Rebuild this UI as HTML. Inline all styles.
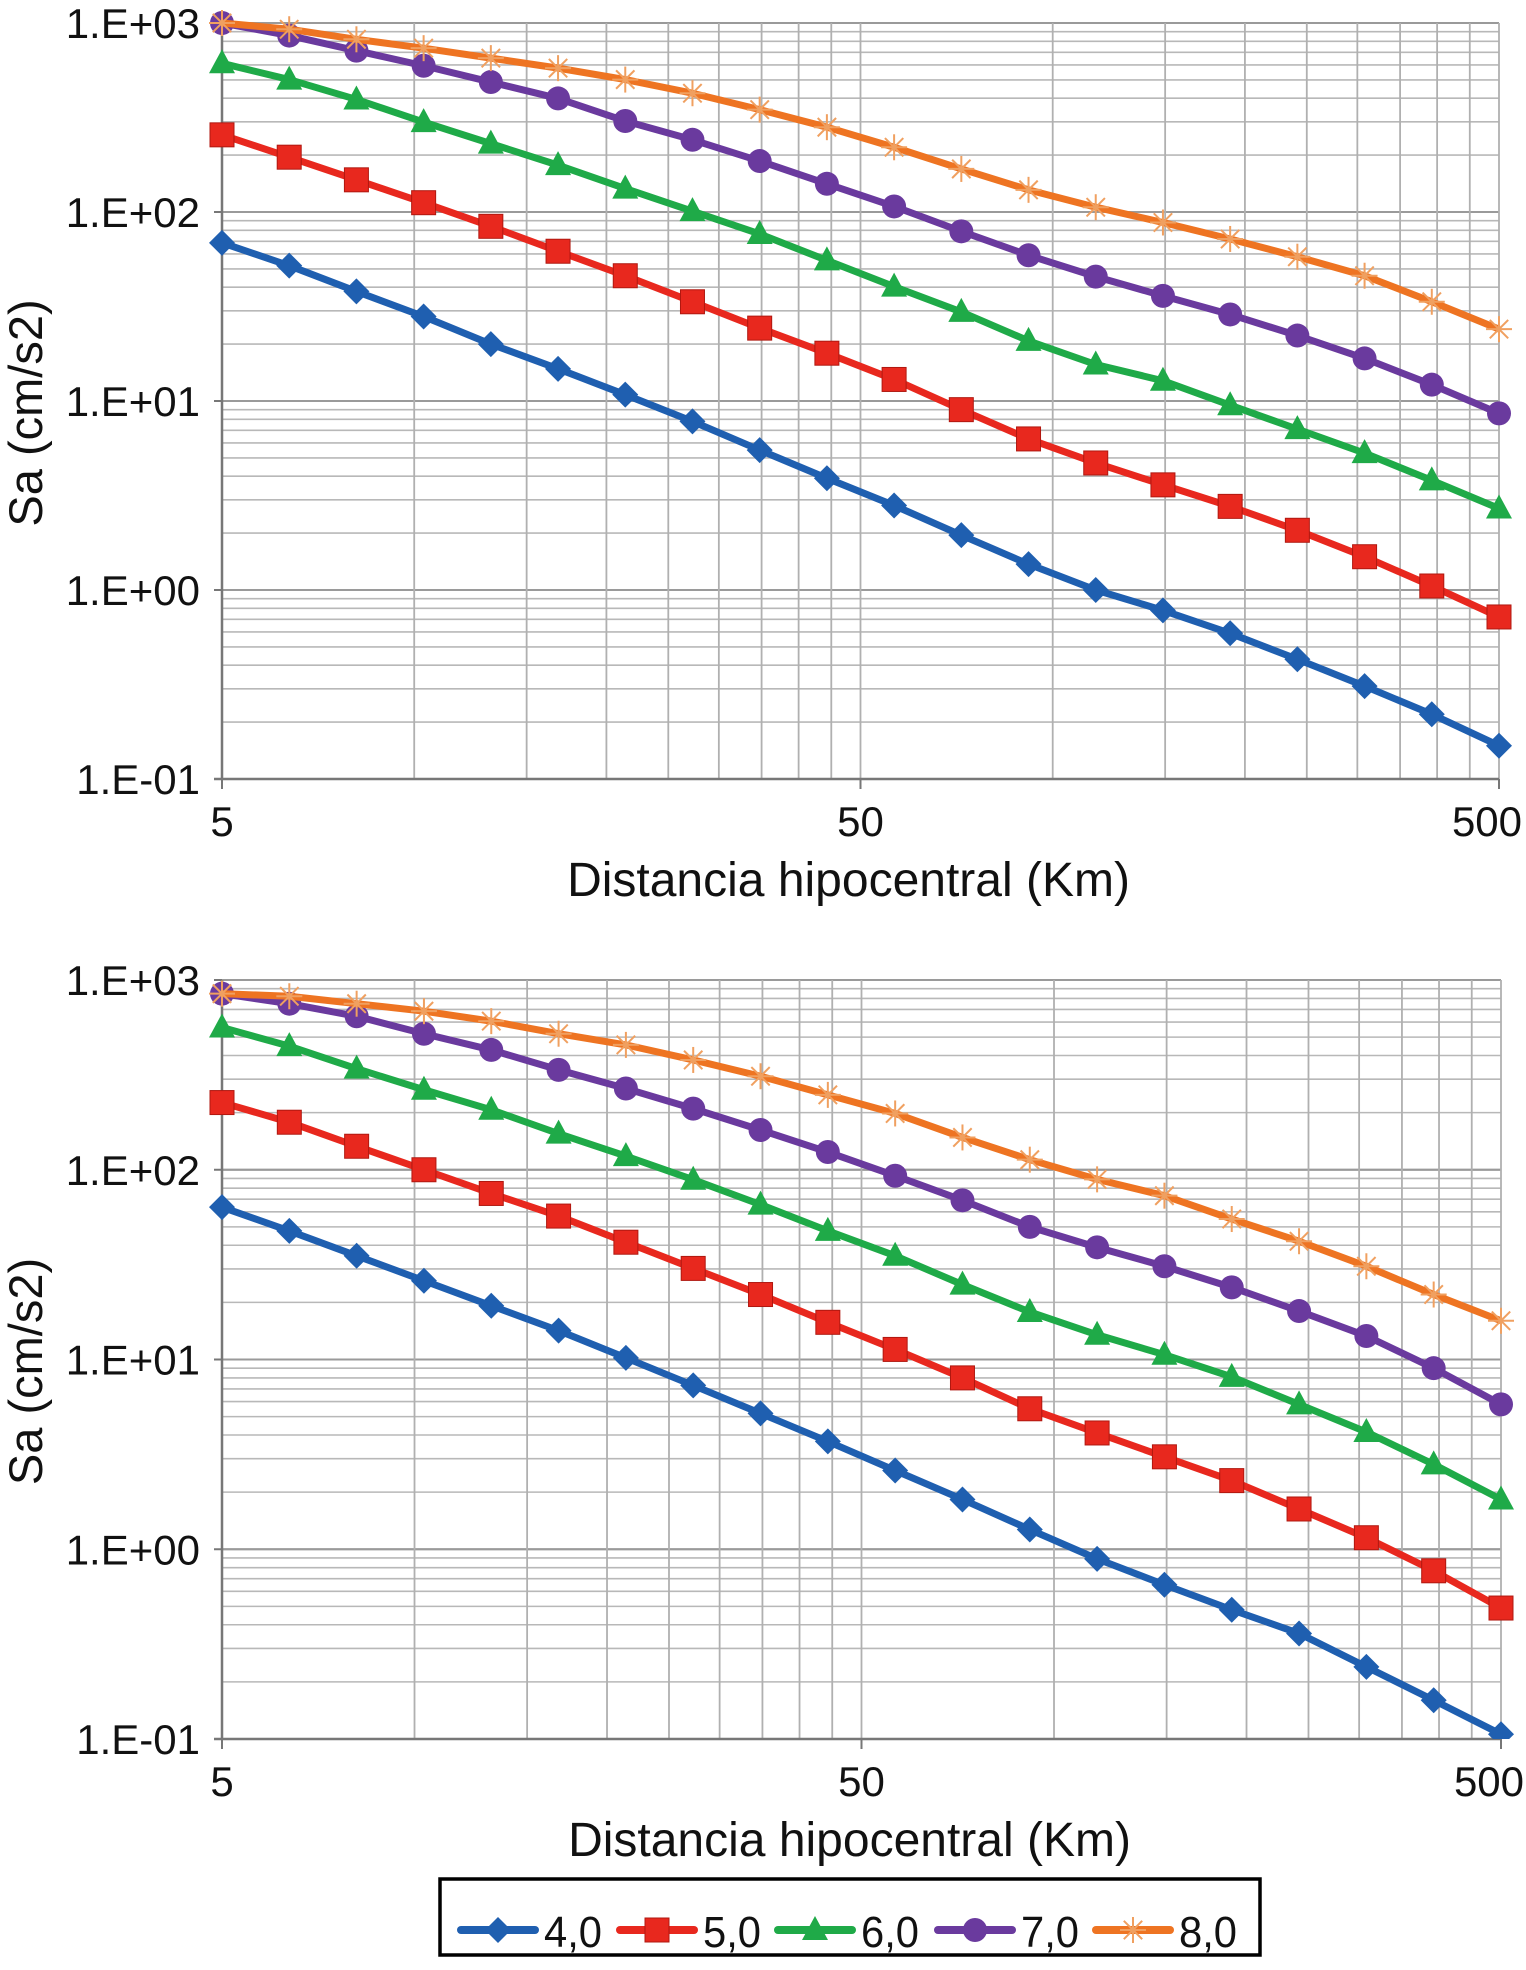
<!DOCTYPE html>
<html><head><meta charset="utf-8"><style>
html,body{margin:0;padding:0;background:#fff;}
svg{display:block;font-family:"Liberation Sans",Arial,sans-serif;}
</style></head><body>
<svg id="chart" width="1526" height="1970" viewBox="0 0 1526 1970">
<g id="p1"></g>
<g id="p2"></g>
<g id="legend">
<rect x="440" y="1879" width="820" height="76" fill="#fff" stroke="#000" stroke-width="3.5"/>
</g>
</svg>
<script>
const seriesNames = ["4,0","5,0","6,0","7,0","8,0"];
const xTickLabels = ["5","50","500"];
const yTickLabels = ["1.E+03","1.E+02","1.E+01","1.E+00","1.E-01"];
const nPoints = 20;
const topSeries40 = [68.7,52,38,28,20,14.8,10.8,7.8,5.5,3.9,2.8,1.95,1.37,1.0,0.78,0.59,0.43,0.31,0.22,0.15];
const topSeries50 = [256,195,148,112,84,62,46,33.5,24.3,17.9,13,9.0,6.3,4.7,3.6,2.77,2.07,1.5,1.05,0.72];
const topSeries60 = [612,502,394,299,230,177,133,101,76.5,55.5,40.3,29.6,20.8,15.6,12.8,9.5,7.1,5.3,3.8,2.7];
const topSeries70 = [1000,858,714,594,487,399,303,241,186,141,107,79,59,45.5,36,28.7,22.2,16.8,12.2,8.6];
const topSeries80 = [1000,927,820,736,652,577,502,425,348,281,220,169,131,106,88,72,58,46,33.5,24];
const botSeries40 = [63.5,47.6,35.2,26,19.2,14.2,10.2,7.3,5.2,3.7,2.6,1.83,1.27,0.89,0.65,0.48,0.36,0.24,0.16,0.106];
const botSeries50 = [226,178,133,100,75,57,41.5,30.2,22,15.7,11.3,8.0,5.5,4.1,3.07,2.3,1.63,1.15,0.77,0.49];
const botSeries60 = [562,448,341,264,207,155,118,88.6,65.5,47.6,35.2,24.8,17.8,13.5,10.6,8.1,5.8,4.15,2.8,1.83];
const botSeries70 = [847,750,644,521,428,336,268,210,162,124,93,69,50,39,31,24,18,13.3,9.0,5.8];
const botSeries80 = [847,821,750,685,607,521,455,379,311,248,198,148,113,89,73,55,42,31,22,16];

const NS="http://www.w3.org/2000/svg";
const colors=["#1f5fb0","#e8281e","#1faa48","#6a3a9e","#ee7422"];
const markers=["diamond","square","triangle","circle","star"];
function mk(tag,attrs,parent){const e=document.createElementNS(NS,tag);for(const k in attrs)e.setAttribute(k,attrs[k]);parent.appendChild(e);return e;}
function xVal(i){return 5*Math.pow(100,i/(nPoints-1));}

function marker(g,type,cx,cy,color){
  let e;
  if(type==="diamond"){e=mk("polygon",{points:`${cx},${cy-13} ${cx+13},${cy} ${cx},${cy+13} ${cx-13},${cy}`,fill:color},g);}
  else if(type==="square"){e=mk("rect",{x:cx-12,y:cy-12,width:24,height:24,fill:color,stroke:"#b01810","stroke-width":1},g);}
  else if(type==="triangle"){e=mk("polygon",{points:`${cx},${cy-14} ${cx+13},${cy+10} ${cx-13},${cy+10}`,fill:color},g);}
  else if(type==="circle"){e=mk("circle",{cx:cx,cy:cy,r:12,fill:color},g);}
  else {e=mk("g",{},g);
    for(let a=0;a<4;a++){const t=a*Math.PI/4;const l=mk("line",{x1:cx-13*Math.cos(t),y1:cy-13*Math.sin(t),x2:cx+13*Math.cos(t),y2:cy+13*Math.sin(t),stroke:"#f0a060","stroke-width":2},e);
      
      }
  }
  
  
}

function drawPanel(g,top,bottom,left,right,data,id){
  const xs=v=>left+(Math.log10(v)-Math.log10(5))/2*(right-left);
  const ys=v=>top+(3-Math.log10(v))/4*(bottom-top);
  for(let d=-1;d<3;d++){for(let m=1;m<=10;m++){const v=m*Math.pow(10,d);
    const l=mk("line",{x1:left,x2:right,y1:ys(v),y2:ys(v),stroke:(m===1||m===10)?"#9a9a9a":"#b8b8b8","stroke-width":m===1||m===10?2:1.6},g);
    
    }}
  const vx=[];for(let v=10;v<=50;v+=5)vx.push(v);for(let v=100;v<=500;v+=50)vx.push(v);
  vx.forEach(v=>{const l=mk("line",{x1:xs(v),x2:xs(v),y1:top,y2:bottom,stroke:"#b0b0b0","stroke-width":1.8},g);
    
    });
  const ax=mk("line",{x1:left,x2:left,y1:top,y2:bottom,stroke:"#777","stroke-width":2.5},g);
  
  
  const bx=mk("line",{x1:left-8,x2:right,y1:bottom,y2:bottom,stroke:"#777","stroke-width":2.5},g);
  
  
  yTickLabels.forEach((t,i)=>{const y=top+i*(bottom-top)/4;
    const tk=mk("line",{x1:left-8,x2:left,y1:y,y2:y,stroke:"#777","stroke-width":2},g);
    
    
    const tx=mk("text",{x:200,y:y+15,"font-size":42,"text-anchor":"end",fill:"#111"},g);tx.textContent=t;
    
    });
  [5,50,500].forEach((v,i)=>{const tk=mk("line",{x1:xs(v),x2:xs(v),y1:bottom,y2:bottom+10,stroke:"#777","stroke-width":2},g);
    
    
    const anchorX=i===2?xs(v)-12:xs(v);
    const tx=mk("text",{x:anchorX,y:bottom+57,"font-size":42,"text-anchor":"middle",fill:"#111"},g);tx.textContent=xTickLabels[i];
    
    });
  const xt=mk("text",{x:(left+right)/2-12,y:bottom+117,"font-size":48,"text-anchor":"middle",fill:"#111"},g);xt.textContent="Distancia hipocentral (Km)";
  
  
  const cy=(top+bottom)/2+12;
  const yt=mk("text",{x:0,y:0,"font-size":47,"text-anchor":"middle",fill:"#111",transform:`translate(42,${cy}) rotate(-90)`},g);yt.textContent="Sa (cm/s2)";
  
  
  const cp=mk("clipPath",{id:"clip"+id},g);mk("rect",{x:left-20,y:top-20,width:right-left+40,height:bottom-top+20},cp);
  data.forEach((arr,s)=>{const sg=mk("g",{"clip-path":`url(#clip${id})`},g);
    
    
    const pts=arr.map((v,i)=>xs(xVal(i))+","+ys(v)).join(" ");
    const pl=mk("polyline",{points:pts,fill:"none",stroke:colors[s],"stroke-width":7,"stroke-linejoin":"round"},sg);
    
    
    arr.forEach((v,i)=>marker(sg,markers[s],xs(xVal(i)),ys(v),colors[s]));
  });
}
drawPanel(document.getElementById("p1"),23,779,222,1499,[topSeries40,topSeries50,topSeries60,topSeries70,topSeries80],1);
drawPanel(document.getElementById("p2"),980,1739,222,1501,[botSeries40,botSeries50,botSeries60,botSeries70,botSeries80],2);
const lg=document.getElementById("legend");
const lx=[461,620,778,938,1096];
seriesNames.forEach((n,i)=>{const g=mk("g",{},lg);
  
  
  mk("line",{x1:lx[i],x2:lx[i]+74,y1:1930,y2:1930,stroke:colors[i],"stroke-width":8,"stroke-linecap":"round"},g);
  marker(g,markers[i],lx[i]+37,1930,colors[i]);
  const t=mk("text",{x:lx[i]+83,y:1947,"font-size":44,fill:"#111",textLength:58,lengthAdjust:"spacingAndGlyphs"},g);t.textContent=n;
  
  
});
</script>
</body></html>
